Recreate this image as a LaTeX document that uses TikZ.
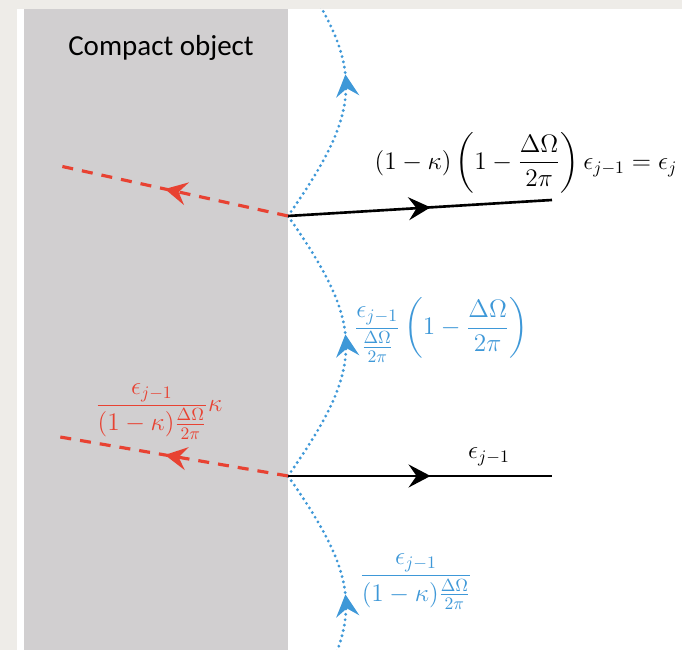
\documentclass[tikz,border=0pt]{standalone}
\usepackage{amsmath}
\usepackage{fontspec}
\newfontfamily\objfont{Carlito}
\usetikzlibrary{positioning, arrows.meta, decorations.markings}

\definecolor{paper}{RGB}{238,236,232}
\definecolor{slab}{RGB}{209,207,208}
\definecolor{lostred}{RGB}{232,66,50}
\definecolor{waveblue}{RGB}{62,152,216}

\begin{document}
\begin{tikzpicture}[
    midarrow/.style={postaction={decorate}, decoration={markings,
        mark=at position 0.54 with {\arrow{Stealth[length=4.4mm, width=4.6mm, inset=1.6mm]}}}},
    ray/.style={midarrow, line width=1.5pt, black},
    lost/.style={midarrow, line width=1.8pt, lostred, dash pattern=on 0.22cm off 0.18cm},
    wave/.style={midarrow, line width=1.8pt, waveblue, line cap=round, dash pattern=on 0pt off 3.1pt},
    lbl/.style={font=\Large, inner sep=1pt},
]

% Paper, panel and the compact object
\fill[paper] (0,0) rectangle (13.64,13);
\useasboundingbox (0,0) rectangle (13.64,13);
\fill[white] (0.34,0) rectangle (13.64,12.82);
\fill[slab] (0.48,0) rectangle (5.76,12.82);
\node[font=\objfont\fontsize{16.5}{19}\selectfont] (objLbl) at (3.22,12.04) {Compact object};

% Reflection points and ray ends
\coordinate (hitA) at (5.76,8.68);
\coordinate (hitB) at (5.76,3.48);
\coordinate (outA) at (11.04,9.0);
\coordinate (outB) at (11.04,3.48);
\coordinate (inA) at (1.2,9.68);
\coordinate (inB) at (1.2,4.26);
\coordinate (waveTop) at (5.76,13.88);
\coordinate (waveBot) at (5.76,-1.72);

% Surface wave
\begin{scope}
\clip (0.34,0) rectangle (13.64,12.82);
\draw[wave] (waveBot) .. controls +(1.547,2.207) and +(1.547,-2.207) .. (hitB);
\draw[wave] (hitB) .. controls +(1.547,2.207) and +(1.547,-2.207) .. (hitA);
\draw[wave] (hitA) .. controls +(1.547,2.207) and +(1.547,-2.207) .. (waveTop);
\end{scope}

% Outgoing rays
\draw[ray] (hitA) -- (outA);
\draw[ray] (hitB) -- (outB);

% Absorbed parts
\draw[lost] (hitA) -- (inA);
\draw[lost] (hitB) -- (inB);

% Labels
\node[lbl] (topLbl) at (10.52,9.74) {$(1-\kappa)\left(1-\dfrac{\Delta\Omega}{2\pi}\right)\epsilon_{j-1}=\epsilon_j$};
\node[lbl] (lowLbl) at (9.78,3.86) {$\epsilon_{j-1}$};
\node[lbl, text=waveblue] (midLbl) at (8.82,6.4) {$\dfrac{\epsilon_{j-1}}{\frac{\Delta\Omega}{2\pi}}\left(1-\dfrac{\Delta\Omega}{2\pi}\right)$};
\node[lbl, text=waveblue] (botLbl) at (8.32,1.36) {$\dfrac{\epsilon_{j-1}}{(1-\kappa)\frac{\Delta\Omega}{2\pi}}$};
\node[lbl, text=lostred] (redLbl) at (3.18,4.77) {$\dfrac{\epsilon_{j-1}}{(1-\kappa)\frac{\Delta\Omega}{2\pi}}\kappa$};

\end{tikzpicture}
\end{document}
